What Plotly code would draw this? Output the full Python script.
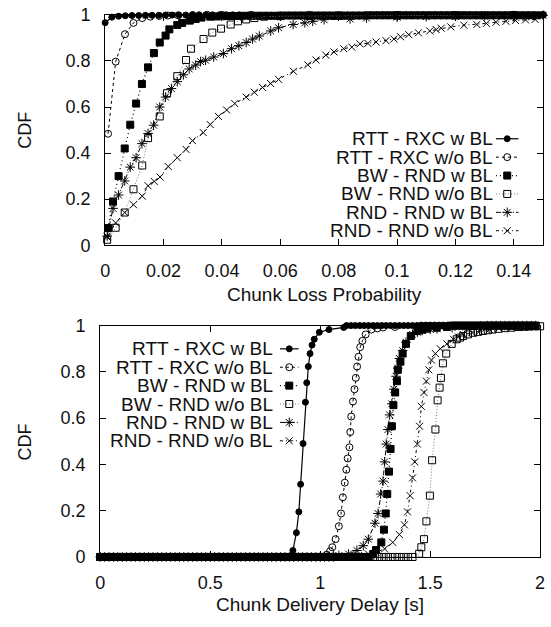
import plotly.graph_objects as go

W, H = 551, 627
FONT = 'Liberation Sans, Arial, Helvetica, sans-serif'

SERIES = ['RTT - RXC w BL', 'RTT - RXC w/o BL', 'BW - RND w BL',
          'BW - RND w/o BL', 'RND - RND w BL', 'RND - RND w/o BL']

CDF_TICKS = [0, 0.2, 0.4, 0.6, 0.8, 1]
CDF_TICK_TEXT = ['0', '0.2', '0.4', '0.6', '0.8', '1']
LOSS_TICKS = [0, 0.02, 0.04, 0.06, 0.08, 0.1, 0.12, 0.14]
LOSS_TICK_TEXT = ['0', '0.02', '0.04', '0.06', '0.08', '0.1', '0.12', '0.14']
DELAY_TICKS = [0, 0.5, 1, 1.5, 2]
DELAY_TICK_TEXT = ['0', '0.5', '1', '1.5', '2']

# ---------- top panel: chunk loss probability ----------
loss_rtt_w_x = [0.0, 0.0023, 0.0046, 0.0069, 0.0092, 0.0115, 0.0138, 0.0161, 0.0184, 0.0207,
                0.023, 0.0253, 0.0276, 0.0299, 0.0322, 0.0345, 0.0368, 0.0391, 0.0414, 0.0437,
                0.046, 0.06, 0.08, 0.1, 0.12, 0.15]
loss_rtt_w_y = [0.966, 0.99, 0.994, 0.996, 0.997, 0.997, 0.998, 0.998, 0.998, 0.999,
                0.999, 0.999, 0.999, 1, 1, 1, 1, 1, 1, 1,
                1, 1, 1, 1, 1, 1]

loss_rtt_wo_x = [0.001, 0.0036, 0.0068, 0.0097, 0.0127, 0.0155, 0.0185, 0.0215, 0.025, 0.03,
                 0.035, 0.04, 0.05, 0.07, 0.1, 0.15]
loss_rtt_wo_y = [0.484, 0.797, 0.916, 0.965, 0.986, 0.992, 0.995, 0.997, 0.998, 0.999,
                 1, 1, 1, 1, 1, 1]

loss_bw_w_x = [0.001, 0.0027, 0.0046, 0.0067, 0.0086, 0.0106, 0.0126, 0.0147, 0.0167, 0.0187,
               0.0207, 0.022, 0.0247, 0.0264, 0.029, 0.031, 0.033,
               0.036, 0.038, 0.04, 0.042, 0.044, 0.046, 0.048, 0.05, 0.052, 0.054,
               0.056, 0.058, 0.06, 0.062, 0.064, 0.066, 0.068, 0.07, 0.072, 0.074,
               0.076, 0.078, 0.08, 0.082, 0.084, 0.086, 0.088, 0.09, 0.092, 0.094,
               0.096, 0.098, 0.1, 0.102, 0.104, 0.106, 0.108, 0.11, 0.112, 0.114,
               0.116, 0.118, 0.12, 0.122, 0.124, 0.126, 0.128, 0.13, 0.132, 0.134,
               0.136, 0.138, 0.14, 0.142, 0.144, 0.146, 0.148]
loss_bw_w_y = [0.075, 0.19, 0.30, 0.42, 0.523, 0.615, 0.70, 0.772, 0.834, 0.88,
               0.91, 0.937, 0.956, 0.965, 0.975, 0.982, 0.988,
               0.992, 0.993, 0.994, 0.995, 0.995, 0.995, 0.996, 0.996, 0.996, 0.996,
               0.996, 0.996, 0.996, 0.997, 0.997, 0.997, 0.997, 0.997, 0.997, 0.997,
               0.997, 0.997, 0.997, 0.997, 0.997, 0.997, 0.997, 0.998, 0.998, 0.998,
               0.998, 0.998, 0.998, 0.998, 0.998, 0.998, 0.998, 0.998, 0.998, 0.998,
               0.998, 0.998, 0.998, 0.998, 0.998, 0.998, 0.998, 0.998, 0.998, 0.998,
               0.998, 0.998, 0.998, 0.998, 0.998, 0.998, 0.998]

loss_bw_wo_x = [0.0007, 0.0036, 0.0067, 0.0097, 0.0127, 0.0147, 0.0187, 0.0212, 0.0247, 0.0277,
                0.0294, 0.0337, 0.0367, 0.0397, 0.043, 0.0455, 0.0483, 0.0511, 0.0544, 0.06,
                0.07, 0.08, 0.1, 0.12, 0.14]
loss_bw_wo_y = [0.024, 0.076, 0.142, 0.243, 0.346, 0.465, 0.559, 0.66, 0.734, 0.804,
                0.853, 0.895, 0.923, 0.94, 0.958, 0.972, 0.98, 0.986, 0.992, 0.994,
                0.995, 0.996, 0.997, 0.998, 0.999]

loss_rnd_w_x = [0.0007, 0.0027, 0.0046, 0.0067, 0.0086, 0.0106, 0.0126, 0.0147, 0.0166, 0.0187,
                0.0207, 0.0227, 0.0247, 0.0268, 0.0288, 0.031, 0.0327, 0.0344, 0.0372, 0.0405,
                0.0433, 0.0458, 0.0483, 0.0505, 0.0528, 0.0567, 0.0594, 0.0644, 0.0684, 0.0711,
                0.075, 0.0839, 0.0895, 0.1, 0.11, 0.12, 0.13, 0.14, 0.15]
loss_rnd_w_y = [0.04, 0.16, 0.218, 0.279, 0.339, 0.38, 0.441, 0.485, 0.521, 0.60,
                0.643, 0.68, 0.71, 0.74, 0.765, 0.782, 0.797, 0.803, 0.817, 0.832,
                0.853, 0.866, 0.88, 0.895, 0.908, 0.93, 0.944, 0.958, 0.965, 0.972,
                0.979, 0.982, 0.986, 0.99, 0.992, 0.994, 0.996, 0.997, 0.998]

loss_rnd_wo_x = [0.0007, 0.0036, 0.0067, 0.0097, 0.0127, 0.0147, 0.0168, 0.0188, 0.0216, 0.0247,
                 0.0277, 0.0299, 0.0336, 0.036, 0.0388, 0.0416, 0.0444, 0.0483, 0.0511, 0.0539,
                 0.0567, 0.0594, 0.0645, 0.0694, 0.0722, 0.0756, 0.0784, 0.0817, 0.0845, 0.0873,
                 0.09, 0.0928, 0.0962, 0.0989, 0.1012, 0.104, 0.1073, 0.1112, 0.1134, 0.1151,
                 0.1184, 0.1229, 0.1273, 0.1306, 0.1339, 0.1373, 0.1406, 0.144, 0.1473]
loss_rnd_wo_y = [0.035, 0.097, 0.142, 0.176, 0.213, 0.258, 0.277, 0.296, 0.342, 0.38,
                 0.416, 0.454, 0.489, 0.524, 0.559, 0.587, 0.615, 0.643, 0.664, 0.685,
                 0.702, 0.72, 0.755, 0.783, 0.804, 0.825, 0.839, 0.853, 0.86, 0.874,
                 0.876, 0.882, 0.888, 0.895, 0.905, 0.914, 0.922, 0.93, 0.936, 0.942,
                 0.948, 0.955, 0.958, 0.963, 0.968, 0.972, 0.975, 0.978, 0.98]

# ---------- bottom panel: chunk delivery delay ----------
# sampling grid of the delay CDFs where they sit flat at 0 or 1
DELAY_GRID = [0.0, 0.02, 0.04, 0.06, 0.08, 0.1, 0.12, 0.14, 0.16, 0.18,
              0.2, 0.22, 0.24, 0.26, 0.28, 0.3, 0.32, 0.34, 0.36, 0.38,
              0.4, 0.42, 0.44, 0.46, 0.48, 0.5, 0.52, 0.54, 0.56, 0.58,
              0.6, 0.62, 0.64, 0.66, 0.68, 0.7, 0.72, 0.74, 0.76, 0.78,
              0.8, 0.82, 0.84, 0.86, 0.88, 0.9, 0.92, 0.94, 0.96, 0.98,
              1.0, 1.02, 1.04, 1.06, 1.08, 1.1, 1.12, 1.14, 1.16, 1.18,
              1.2, 1.22, 1.24, 1.26, 1.28, 1.3, 1.32, 1.34, 1.36, 1.38,
              1.4, 1.42, 1.44, 1.46, 1.48, 1.5, 1.52, 1.54, 1.56, 1.58,
              1.6, 1.62, 1.64, 1.66, 1.68, 1.7, 1.72, 1.74, 1.76, 1.78,
              1.8, 1.82, 1.84, 1.86, 1.88, 1.9, 1.92, 1.94, 1.96, 1.98]

delay_rtt_w_x = [0.876, 0.892, 0.903, 0.911, 0.922, 0.933, 0.939, 0.946, 0.954, 0.963,
                 0.973, 0.996, 1.04, 1.107]
delay_rtt_w_y = [0.028, 0.105, 0.195, 0.314, 0.49, 0.669, 0.753, 0.823, 0.879, 0.916,
                 0.941, 0.971, 0.983, 0.992]

delay_rtt_wo_x = [1.03, 1.045, 1.055, 1.07, 1.085, 1.095, 1.103, 1.112, 1.119, 1.125, 1.133,
                  1.137, 1.141, 1.149, 1.156, 1.162, 1.168, 1.174, 1.182, 1.192, 1.207,
                  1.233, 1.26, 1.286, 1.34, 1.44]
delay_rtt_wo_y = [0.01, 0.025, 0.042, 0.077, 0.133, 0.188, 0.258, 0.321, 0.377, 0.426, 0.474,
                  0.54, 0.607, 0.672, 0.725, 0.774, 0.823, 0.865, 0.907, 0.934, 0.962,
                  0.983, 0.988, 0.992, 0.994, 0.996]

delay_bw_w_x = [1.241, 1.254, 1.278, 1.29, 1.298, 1.305, 1.313, 1.32, 1.326, 1.333, 1.341,
                1.349, 1.353, 1.365, 1.375, 1.39, 1.412, 1.442, 1.465, 1.487, 1.53, 1.576]
delay_bw_w_y = [0.013, 0.03, 0.063, 0.118, 0.188, 0.272, 0.369, 0.467, 0.565, 0.656, 0.711,
                0.76, 0.809, 0.844, 0.879, 0.921, 0.955, 0.976, 0.982, 0.987, 0.991, 0.994]

delay_bw_wo_x = [1.45, 1.46, 1.472, 1.483, 1.499, 1.509, 1.524, 1.534, 1.543, 1.549, 1.558,
                 1.573, 1.598, 1.621, 1.636, 1.65, 1.672, 1.695, 1.718, 1.74, 1.762, 1.784,
                 1.81, 1.84, 1.87, 1.903, 1.93, 1.95, 1.975, 2.0]
delay_bw_wo_y = [0.014, 0.042, 0.077, 0.154, 0.265, 0.418, 0.551, 0.677, 0.732, 0.774, 0.837,
                 0.879, 0.921, 0.941, 0.948, 0.955, 0.962, 0.969, 0.973, 0.977, 0.98, 0.983,
                 0.986, 0.989, 0.991, 0.994, 0.995, 0.996, 0.997, 0.997]

delay_rnd_w_x = [1.085, 1.129, 1.167, 1.196, 1.219, 1.249, 1.263, 1.275, 1.286, 1.293, 1.3,
                 1.308, 1.316, 1.326, 1.335, 1.345, 1.353, 1.36, 1.375, 1.39, 1.42, 1.442,
                 1.464, 1.5, 1.531, 1.6, 1.665, 1.73]
delay_rnd_w_y = [0.006, 0.013, 0.028, 0.049, 0.077, 0.146, 0.188, 0.272, 0.328, 0.411, 0.488,
                 0.551, 0.614, 0.662, 0.725, 0.781, 0.816, 0.858, 0.892, 0.928, 0.962, 0.972,
                 0.979, 0.984, 0.987, 0.991, 0.994, 0.997]

delay_rnd_wo_x = [1.174, 1.219, 1.254, 1.293, 1.33, 1.36, 1.383, 1.397, 1.409, 1.42, 1.43,
                  1.442, 1.452, 1.46, 1.472, 1.483, 1.494, 1.506, 1.524, 1.546, 1.576, 1.606,
                  1.628, 1.65, 1.69, 1.725, 1.77, 1.814, 1.87, 1.933]
delay_rnd_wo_y = [0.006, 0.013, 0.021, 0.035, 0.063, 0.097, 0.139, 0.195, 0.265, 0.342, 0.411,
                  0.488, 0.565, 0.651, 0.711, 0.76, 0.809, 0.851, 0.879, 0.9, 0.921, 0.941,
                  0.951, 0.962, 0.97, 0.976, 0.983, 0.99, 0.993, 0.996]

STYLES = [
    dict(symbol='circle', size=6, dash='solid', lc='black', lw=1.2),
    dict(symbol='circle-open', size=7, dash='3px,3px', lc='black', lw=1),
    dict(symbol='square', size=7, dash='1px,3px', lc='black', lw=1.2),
    dict(symbol='square-open', size=7, dash='1px,2px', lc='#777777', lw=1),
    dict(symbol='asterisk-open', size=8, dash='5px,2px,1px,2px', lc='black', lw=1),
    dict(symbol='x-thin-open', size=7, dash='3px,3px,1px,3px', lc='black', lw=1),
]


def with_flat_tails(xs, ys):
    lo = [g for g in DELAY_GRID if g < xs[0] - 0.01]
    hi = [g for g in DELAY_GRID if g > xs[-1] + 0.01]
    return lo + xs + hi, [0] * len(lo) + ys + [1] * len(hi)


loss_data = [(loss_rtt_w_x, loss_rtt_w_y), (loss_rtt_wo_x, loss_rtt_wo_y),
             (loss_bw_w_x, loss_bw_w_y), (loss_bw_wo_x, loss_bw_wo_y),
             (loss_rnd_w_x, loss_rnd_w_y), (loss_rnd_wo_x, loss_rnd_wo_y)]
delay_data = [with_flat_tails(delay_rtt_w_x, delay_rtt_w_y),
              with_flat_tails(delay_rtt_wo_x, delay_rtt_wo_y),
              with_flat_tails(delay_bw_w_x, delay_bw_w_y),
              with_flat_tails(delay_bw_wo_x, delay_bw_wo_y),
              with_flat_tails(delay_rnd_w_x, delay_rnd_w_y),
              with_flat_tails(delay_rnd_wo_x, delay_rnd_wo_y)]


def marker(st):
    return dict(symbol=st['symbol'], size=st['size'], color='black',
                line=dict(color='black', width=1))


fig = go.Figure()

for (xs, ys), st, name in zip(loss_data, STYLES, SERIES):
    fig.add_trace(go.Scatter(x=xs, y=ys, mode='lines+markers', name=name,
                             line=dict(color=st['lc'], width=st['lw'], dash=st['dash']),
                             marker=marker(st), cliponaxis=False,
                             xaxis='x', yaxis='y'))

for (xs, ys), st, name in zip(delay_data, STYLES, SERIES):
    fig.add_trace(go.Scatter(x=xs, y=ys, mode='lines+markers', name=name,
                             line=dict(color=st['lc'], width=st['lw'], dash=st['dash']),
                             marker=marker(st), cliponaxis=False,
                             xaxis='x2', yaxis='y2'))

# gnuplot style keys: right aligned text, sample line on the right
annotations = []
keys = [(498, 500, 523, 133), (274, 280, 299, 350)]
for tx, sx0, sx1, row0 in keys:
    for i, (name, st) in enumerate(zip(SERIES, STYLES)):
        ry = row0 + 19 * i
        annotations.append(dict(text=name, x=tx, y=ry, xref='x3', yref='y3',
                                xanchor='right', yanchor='middle', showarrow=False,
                                borderpad=0, font=dict(size=19, color='#111', family=FONT)))
        fig.add_trace(go.Scatter(x=[sx0, sx1], y=[ry, ry], mode='lines',
                                 line=dict(color=st['lc'], width=st['lw'], dash=st['dash']),
                                 xaxis='x3', yaxis='y3', cliponaxis=False, hoverinfo='skip'))
        fig.add_trace(go.Scatter(x=[(sx0 + sx1) / 2], y=[ry], mode='markers',
                                 marker=marker(st), xaxis='x3', yaxis='y3',
                                 cliponaxis=False, hoverinfo='skip'))

annotations += [
    dict(text='CDF', x=20, y=124, textangle=-90),
    dict(text='CDF', x=20, y=446, textangle=-90),
    dict(text='Chunk Loss Probability', x=325, y=294),
    dict(text='Chunk Delivery Delay [s]', x=321, y=614),
]
for a in annotations[-4:]:
    a.update(xref='x3', yref='y3', showarrow=False, xanchor='center', yanchor='middle',
             borderpad=0, font=dict(size=19, color='#111', family=FONT))
annotations[-4]['font'] = dict(size=18, color='#111', family=FONT)
annotations[-3]['font'] = dict(size=18, color='#111', family=FONT)

axis = dict(showline=True, linecolor='black', linewidth=1, mirror='allticks',
            ticks='inside', ticklen=6, tickcolor='black', showgrid=False, zeroline=False,
            tickfont=dict(size=18, color='#111', family=FONT))

fig.update_layout(
    width=W, height=H, autosize=False,
    margin=dict(l=0, r=0, t=0, b=0),
    paper_bgcolor='white', plot_bgcolor='rgba(0,0,0,0)',
    showlegend=False,
    annotations=annotations,
    xaxis=dict(axis, domain=[102 / W, 548 / W], range=[0, 0.15], anchor='y',
               tickvals=LOSS_TICKS, ticktext=LOSS_TICK_TEXT, ticklabelstandoff=9),
    yaxis=dict(axis, domain=[1 - 243 / H, 1 - 5 / H], range=[0, 1], anchor='x',
               tickvals=CDF_TICKS, ticktext=CDF_TICK_TEXT, ticklabelstandoff=10),
    xaxis2=dict(axis, domain=[97 / W, 545 / W], range=[0, 2], anchor='y2',
                tickvals=DELAY_TICKS, ticktext=DELAY_TICK_TEXT, ticklabelstandoff=9),
    yaxis2=dict(axis, domain=[1 - 565 / H, 1 - 326 / H], range=[0, 1], anchor='x2',
                tickvals=CDF_TICKS, ticktext=CDF_TICK_TEXT, ticklabelstandoff=10),
    xaxis3=dict(domain=[0, 1], range=[0, W], visible=False, anchor='y3', fixedrange=True),
    yaxis3=dict(domain=[0, 1], range=[H, 0], visible=False, anchor='x3', fixedrange=True),
)

fig.write_html("out.html", config={'displayModeBar': False},
               post_script="document.body.style.margin='0';")
